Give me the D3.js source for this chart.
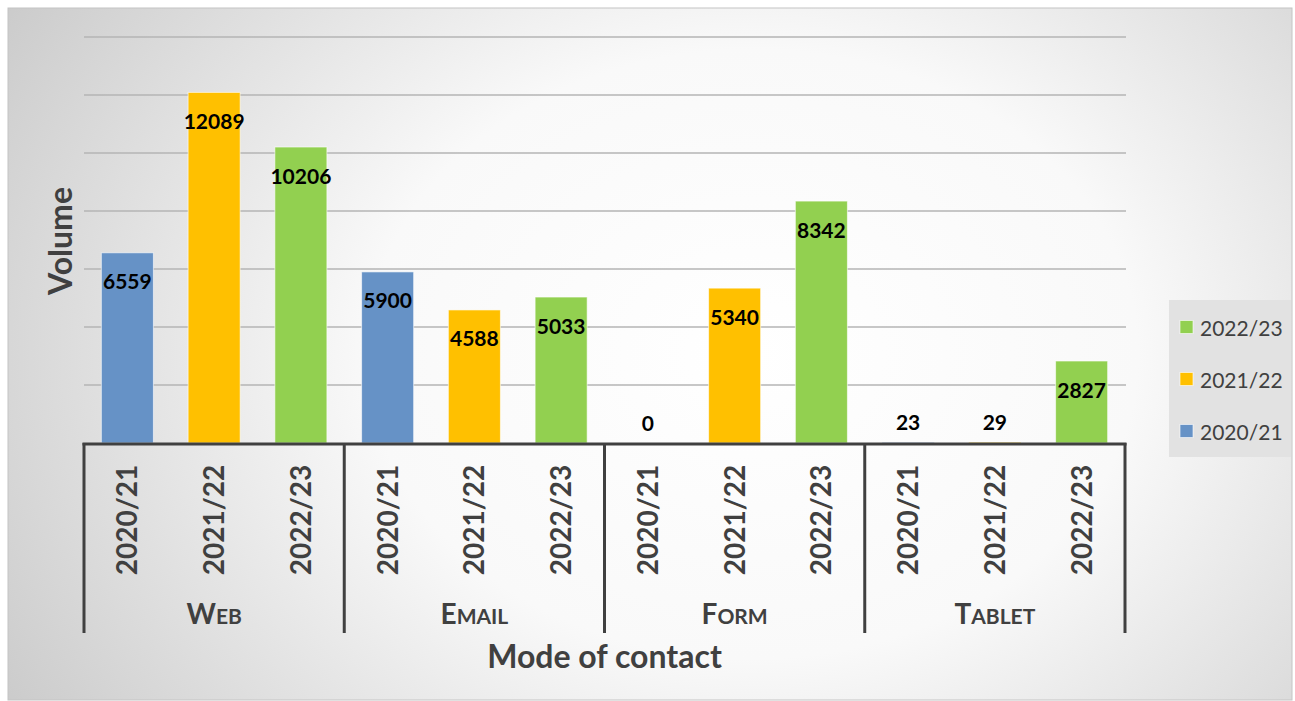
<!DOCTYPE html>
<html>
<head>
<meta charset="utf-8">
<script src="https://cdn.jsdelivr.net/npm/d3@7"></script>
<style>
  body { margin: 0; background: #fff; }
  svg { display: block; font-family: Lato, "Open Sans", sans-serif; }
</style>
</head>
<body>
<svg id="chart" width="1295" height="701"></svg>
<script>
var modes = ["Web", "Email", "Form", "Tablet"];
var years = ["2020/21", "2021/22", "2022/23"];
var webValues = [6559, 12089, 10206];
var emailValues = [5900, 4588, 5033];
var formValues = [0, 5340, 8342];
var tabletValues = [23, 29, 2827];
var yTicks = [2000, 4000, 6000, 8000, 10000, 12000, 14000];
var colors = ["#6692c6", "#ffc000", "#92d050"];

var allValues = [webValues, emailValues, formValues, tabletValues];
var rows = [];
modes.forEach(function(m, i) {
	years.forEach(function(y, j) {
		rows.push({ mode: m, year: y, value: allValues[i][j], color: colors[j] });
	});
});

var svg = d3.select("#chart");

// background
var defs = svg.append("defs");
var grad = defs.append("radialGradient")
	.attr("id", "bg")
	.attr("cx", 0.58).attr("cy", 0.5).attr("r", 1)
	.attr("fx", 0.58).attr("fy", 0.5)
	.attr("gradientTransform", "translate(0.58,0.5) scale(0.75,1.1) translate(-0.58,-0.5)");
grad.append("stop").attr("offset", "0").attr("stop-color", "#ffffff");
grad.append("stop").attr("offset", "0.4").attr("stop-color", "#f9f9f9");
grad.append("stop").attr("offset", "1").attr("stop-color", "#c2c2c2");

svg.append("rect")
	.attr("x", 8).attr("y", 8)
	.attr("width", 1284).attr("height", 692)
	.attr("fill", "url(#bg)")
	.attr("stroke", "#c4c4c4").attr("stroke-width", 1);

var left = 84, right = 1125, base = 443;

var x0 = d3.scaleBand().domain(modes).range([left, right]).padding(0);
var x1 = d3.scaleBand().domain(years).range([0, x0.bandwidth()])
	.paddingInner(0.4).paddingOuter(0.2);
var y = d3.scaleLinear().domain([0, 14000]).range([base, 37]);

// gridlines
svg.append("g").selectAll("line")
	.data(yTicks)
	.enter()
	.append("line")
	.attr("x1", left).attr("x2", right + 1)
	.attr("y1", function(d) { return y(d); })
	.attr("y2", function(d) { return y(d); })
	.attr("stroke", "#b5b5b5")
	.attr("stroke-width", 1.5);

// bars
var bars = svg.append("g");
bars.selectAll("rect")
	.data(rows)
	.enter()
	.append("rect")
	.attr("x", function(d) { return x0(d.mode) + x1(d.year); })
	.attr("y", function(d) { return y(d.value); })
	.attr("width", x1.bandwidth())
	.attr("height", function(d) { return base - y(d.value); })
	.attr("fill", function(d) { return d.color; })
	.attr("stroke", "rgba(255,255,255,0.6)")
	.attr("stroke-width", 1);

// data labels
svg.append("g").selectAll("text")
	.data(rows)
	.enter()
	.append("text")
	.attr("x", function(d) { return x0(d.mode) + x1(d.year) + x1.bandwidth() / 2; })
	.attr("y", function(d) {
		var top = y(d.value);
		return (base - top < 40) ? top - 21 : top + 28;
	})
	.attr("text-anchor", "middle")
	.attr("dominant-baseline", "central")
	.attr("font-size", 21)
	.attr("font-weight", "bold")
	.attr("fill", "#000")
	.text(function(d) { return d.value; });

// axis line and group separators
svg.append("line")
	.attr("x1", left - 1.5).attr("x2", right + 1.5)
	.attr("y1", base + 1).attr("y2", base + 1)
	.attr("stroke", "#404040").attr("stroke-width", 3);

var seps = modes.map(function(m) { return x0(m); }).concat([right]);
svg.append("g").selectAll("line")
	.data(seps)
	.enter()
	.append("line")
	.attr("x1", function(d) { return d; })
	.attr("x2", function(d) { return d; })
	.attr("y1", base).attr("y2", 633)
	.attr("stroke", "#404040").attr("stroke-width", 3);

// year tick labels (rotated)
svg.append("g").selectAll("text")
	.data(rows)
	.enter()
	.append("text")
	.attr("transform", function(d) {
		var cx = x0(d.mode) + x1(d.year) + x1.bandwidth() / 2;
		return "translate(" + (cx + 10) + ",520) rotate(-90)";
	})
	.attr("text-anchor", "middle")
	.attr("font-size", 28)
	.attr("font-weight", "bold")
	.attr("fill", "#404040")
	.text(function(d) { return d.year; });

// group labels in small caps
var groupLabels = svg.append("g").selectAll("text")
	.data(modes)
	.enter()
	.append("text")
	.attr("x", function(d) { return x0(d) + x0.bandwidth() / 2; })
	.attr("y", 624)
	.attr("text-anchor", "middle")
	.attr("font-weight", "bold")
	.attr("fill", "#404040");
groupLabels.append("tspan")
	.attr("font-size", 28)
	.text(function(d) { return d.charAt(0).toUpperCase(); });
groupLabels.append("tspan")
	.attr("font-size", 21)
	.text(function(d) { return d.slice(1).toUpperCase(); });

// axis titles
svg.append("text")
	.attr("x", (left + right) / 2)
	.attr("y", 668)
	.attr("text-anchor", "middle")
	.attr("font-size", 32)
	.attr("font-weight", "bold")
	.attr("fill", "#404040")
	.text("Mode of contact");

svg.append("text")
	.attr("transform", "translate(72,241) rotate(-90)")
	.attr("text-anchor", "middle")
	.attr("font-size", 32)
	.attr("font-weight", "bold")
	.attr("fill", "#404040")
	.text("Volume");

// legend
var legend = svg.append("g");
legend.append("rect")
	.attr("x", 1169).attr("y", 300)
	.attr("width", 122).attr("height", 157)
	.attr("fill", "#e2e2e2");

var legendItems = legend.selectAll("g")
	.data(years.slice().reverse())
	.enter()
	.append("g")
	.attr("transform", function(d, i) { return "translate(1180," + (327 + i * 52) + ")"; });
legendItems.append("rect")
	.attr("x", 0).attr("y", -6.5)
	.attr("width", 13).attr("height", 13)
	.attr("fill", function(d) { return colors[years.indexOf(d)]; })
	.attr("stroke", "rgba(255,255,255,0.6)");
legendItems.append("text")
	.attr("x", 20).attr("y", 0)
	.attr("dominant-baseline", "central")
	.attr("font-size", 21)
	.attr("fill", "#404040")
	.text(function(d) { return d; });
</script>
</body>
</html>
